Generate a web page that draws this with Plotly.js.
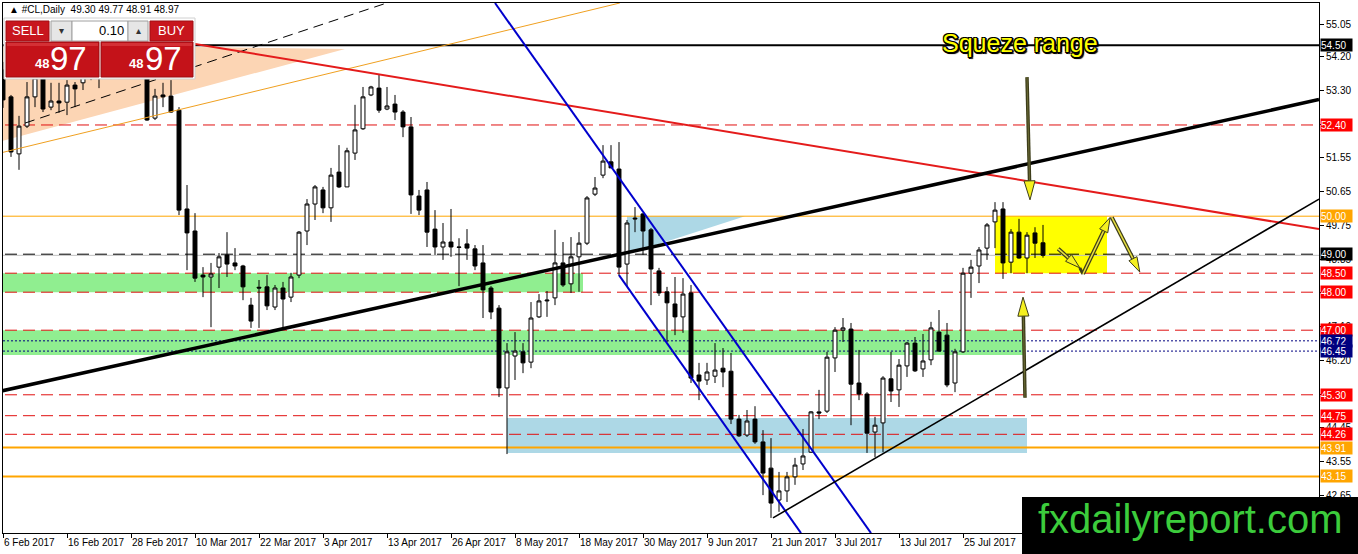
<!DOCTYPE html>
<html><head><meta charset="utf-8">
<script src="https://cdn.plot.ly/plotly-3.0.1.min.js"></script>
<style>html,body{margin:0;padding:0;background:#fff;}#chart{width:1358px;height:554px;}</style>
</head><body><div id="chart"></div>
<script>
// ---------- DATA ----------
const dates = [
"2017-02-06","2017-02-07","2017-02-08","2017-02-09","2017-02-10","2017-02-13","2017-02-14","2017-02-15","2017-02-16","2017-02-17",
"2017-02-20","2017-02-21","2017-02-22","2017-02-23","2017-02-24","2017-02-27","2017-02-28",
"2017-03-01","2017-03-02","2017-03-03","2017-03-06","2017-03-07","2017-03-08","2017-03-09","2017-03-10","2017-03-13","2017-03-14",
"2017-03-15","2017-03-16","2017-03-17","2017-03-20","2017-03-21","2017-03-22","2017-03-23","2017-03-24","2017-03-27","2017-03-28",
"2017-03-29","2017-03-30","2017-03-31",
"2017-04-03","2017-04-04","2017-04-05","2017-04-06","2017-04-07","2017-04-10","2017-04-11","2017-04-12","2017-04-13","2017-04-17",
"2017-04-18","2017-04-19","2017-04-20","2017-04-21","2017-04-24","2017-04-25","2017-04-26","2017-04-27","2017-04-28",
"2017-05-01","2017-05-02","2017-05-03","2017-05-04","2017-05-05","2017-05-08","2017-05-09","2017-05-10","2017-05-11","2017-05-12",
"2017-05-15","2017-05-16","2017-05-17","2017-05-18","2017-05-19","2017-05-22","2017-05-23","2017-05-24","2017-05-25","2017-05-26",
"2017-05-29","2017-05-30","2017-05-31",
"2017-06-01","2017-06-02","2017-06-05","2017-06-06","2017-06-07","2017-06-08","2017-06-09","2017-06-12","2017-06-13","2017-06-14",
"2017-06-15","2017-06-16","2017-06-19","2017-06-20","2017-06-21","2017-06-22","2017-06-23","2017-06-26","2017-06-27","2017-06-28",
"2017-06-29","2017-06-30",
"2017-07-03","2017-07-04","2017-07-05","2017-07-06","2017-07-07","2017-07-10","2017-07-11","2017-07-12","2017-07-13","2017-07-14",
"2017-07-17","2017-07-18","2017-07-19","2017-07-20","2017-07-21","2017-07-24","2017-07-25","2017-07-26","2017-07-27","2017-07-28",
"2017-07-31",
"2017-08-01","2017-08-02","2017-08-03","2017-08-04","2017-08-07","2017-08-08"];

const openP = [53.85,53.14,51.64,52.37,53.14,53.79,52.87,53.03,53.00,53.45,53.51,53.70,53.80,53.95,54.20,54.00,54.05,54.10,53.79,52.58,
53.19,53.16,52.79,50.19,49.61,48.45,48.40,48.66,48.98,48.77,48.69,47.66,48.13,48.14,47.61,48.11,47.87,48.45,49.61,50.32,
50.69,50.22,51.16,50.77,51.66,52.30,53.19,53.37,52.82,52.95,52.74,52.35,50.53,50.69,49.66,49.19,49.32,49.19,49.27,49.14,
48.77,48.11,47.58,45.48,46.32,46.43,46.16,47.35,47.77,47.85,48.77,48.22,48.93,49.29,50.58,51.08,51.43,51.24,48.74,49.95,
50.06,49.64,48.56,48.01,47.69,47.35,47.98,45.82,45.69,45.79,46.00,45.92,44.66,44.24,44.66,44.06,43.37,42.53,42.77,43.14,
43.48,43.79,44.85,44.87,46.27,47.00,47.03,45.61,45.32,44.32,44.56,45.72,45.43,46.06,46.66,45.98,46.22,46.95,46.87,45.61,
46.43,48.50,48.69,49.16,49.85,50.19,48.79,49.58,48.90,49.56,49.30];
const highP = [54.06,53.19,52.64,53.53,53.85,53.95,53.51,53.51,53.58,53.53,53.85,53.98,54.25,54.35,54.50,54.30,54.40,54.50,53.95,53.35,
53.51,53.58,52.87,50.82,50.08,48.66,48.77,49.03,49.58,49.16,48.72,47.85,48.32,48.45,48.19,48.27,48.51,49.61,50.45,50.82,
50.77,51.27,51.87,51.80,52.93,53.40,53.43,53.72,53.40,53.19,52.79,52.61,50.69,50.90,50.16,49.82,50.19,49.42,49.66,49.24,
49.24,48.16,47.66,46.66,46.95,46.66,47.74,47.95,48.03,49.64,49.32,49.45,49.58,50.53,51.03,51.87,51.87,51.95,49.90,50.24,
50.08,49.69,48.64,48.14,48.40,48.37,48.19,46.14,46.14,46.66,46.53,46.40,44.77,44.90,45.00,44.37,44.16,43.27,43.27,43.64,
44.40,44.87,45.43,46.43,47.08,47.32,47.19,46.48,45.37,44.72,45.79,46.43,46.24,46.69,46.82,46.90,47.22,47.53,47.19,46.51,
48.64,48.85,49.19,49.82,50.37,50.37,49.66,49.93,49.58,49.71,49.77];
const lowP = [52.85,51.56,51.22,52.32,52.87,52.74,52.79,52.72,52.66,52.87,53.32,53.58,53.37,53.72,53.80,53.75,53.70,53.80,52.51,52.53,
52.87,52.72,50.03,48.58,48.27,47.87,47.08,48.11,48.40,48.58,47.79,47.06,47.06,47.53,47.53,47.06,47.74,48.37,49.24,49.90,
50.08,49.85,50.74,50.77,51.48,52.27,53.16,52.72,52.79,52.53,52.08,50.06,50.03,49.19,48.98,48.85,48.93,48.16,48.85,48.58,
47.32,47.29,45.24,43.74,45.69,45.87,46.00,47.32,47.35,47.66,48.14,47.98,48.01,49.24,50.53,51.00,51.27,48.43,48.14,49.58,
48.98,47.66,47.90,46.69,46.87,46.93,45.61,45.16,45.56,45.61,45.50,44.53,44.19,44.19,44.01,42.66,42.06,42.22,42.48,42.93,
43.32,43.77,44.66,44.82,45.90,46.69,44.50,45.16,43.77,43.66,43.79,45.11,44.98,45.77,45.90,45.77,46.08,46.43,45.50,45.37,
46.40,47.85,48.24,48.85,49.16,48.35,48.50,48.88,48.50,48.90,48.91];
const closeP = [53.06,51.69,52.37,53.14,53.64,52.82,53.03,52.98,53.45,53.35,53.66,53.78,53.95,54.20,54.00,54.10,54.10,53.90,52.53,53.16,
53.14,52.74,50.16,49.56,48.37,48.40,48.48,48.93,48.74,48.69,48.14,47.24,48.11,47.64,48.11,47.82,48.40,49.58,50.32,50.77,
50.22,51.08,50.77,51.72,52.27,53.14,53.40,52.79,52.90,52.74,52.35,50.56,50.16,49.58,49.19,49.32,49.19,49.18,49.16,48.69,
48.06,47.48,45.48,46.43,46.45,46.14,47.32,47.77,47.79,48.77,48.19,48.93,49.29,50.48,50.74,51.45,51.27,48.66,49.82,49.93,
49.61,48.61,47.98,47.72,47.35,47.95,45.74,45.66,45.90,45.95,45.90,44.66,44.22,44.61,44.06,43.24,42.45,42.77,43.14,43.45,
43.69,44.85,44.82,46.29,47.00,47.06,45.58,45.32,44.29,44.50,45.74,45.40,46.08,46.66,45.93,46.19,47.06,46.45,45.56,46.43,
48.50,48.66,49.11,49.77,50.16,48.77,49.58,48.90,49.50,49.29,48.97];

const tickDates = ["2017-02-06","2017-02-16","2017-02-28","2017-03-10","2017-03-22","2017-04-03","2017-04-13","2017-04-26",
"2017-05-08","2017-05-18","2017-05-30","2017-06-09","2017-06-21","2017-07-03","2017-07-13","2017-07-25"];
const tickLabels = ["6 Feb 2017","16 Feb 2017","28 Feb 2017","10 Mar 2017","22 Mar 2017","3 Apr 2017","13 Apr 2017","26 Apr 2017",
"8 May 2017","18 May 2017","30 May 2017","9 Jun 2017","21 Jun 2017","3 Jul 2017","13 Jul 2017","25 Jul 2017"];
const priceTicks = [55.05,54.20,53.30,52.40,51.55,50.65,49.75,48.85,48.00,47.10,46.20,45.30,44.45,43.55,42.65];

// horizontal levels
const redLevels = [52.40,48.50,48.00,47.00,45.30,44.75,44.26];
const orangeThinLevels = [50.00];
const orangeThickLevels = [43.91,43.15];
const blackSolidLevels = [54.50];
const blackDashLevels = [49.00];
const navyDotLevels = [46.72,46.45];
const bidPrice = 48.97;

// price label boxes on the right scale
const labelRed = [52.40,48.50,48.00,47.00,45.30,44.75,44.26];
const labelBlack = [54.50,49.00];
const labelOrange = [50.00,43.91,43.15];
const labelNavy = [46.72,46.45];

// trendlines [barIndex, price]
const trendRed = [[24,54.53],[164.5,49.66]];
const trendBlackThick = [[-0.4,45.39],[164.5,53.07]];
const trendOrange = [[-0.4,51.66],[77.1,55.61]];
const trendBlackDash = [[2.75,52.45],[48.4,55.64]];
const channelUpper = [[61.5,55.61],[108.5,41.66]];
const channelLower = [[77,48.45],[99.75,41.66]];
const trendBlackThin = [[96.25,42.06],[164.5,50.45]];

// zones
const peachTriangle = [[-0.6,54.52],[42.75,54.40],[-0.6,51.95]];
const greenZoneUpper = {x0:-1, x1:72.5, y0:48.00, y1:48.50};
const greenZoneLower = {x0:-1, x1:127.75, y0:46.35, y1:47.00};
const blueZone = {x0:63, x1:128, y0:43.77, y1:44.69};
const blueTriangle = [[78,50.00],[92.75,50.00],[78,49.00]];
const yellowZone = {x0:124, x1:138, y0:48.50, y1:50.00};

// arrows [tail],[tip]
const bigArrows = [
  [[128.0,53.66],[128.375,50.43]],
  [[127.75,45.22],[127.5,47.87]]
];
const smallArrows = [
  [[131.9,49.14],[134.6,48.64]],
  [[135.0,48.48],[138.4,49.97]],
  [[138.6,49.97],[142.1,48.53]]
];
const smallConnector = [[134.6,48.64],[135.0,48.48]];

// ---------- LAYOUT CONSTANTS ----------
const W=1358, H=554, ML=3, MR=39, MT=3, MB=21;
const PW=W-ML-MR, PH=H-MT-MB;
const XR=[0,164.5], YR=[41.663,55.61];
const sx = PW/(XR[1]-XR[0]), sy = PH/(YR[1]-YR[0]);
const px = x => (x-ML)/PW;
const py = y => (H-MB-y)/PH;
const FONT = 'Liberation Sans, Arial, sans-serif';
// tick values whose text sits under a coloured price box
const hiddenTickText = [52.40,48.00,45.30];

const shapes = [];
function dline(p, color, width, dash, layer){
  shapes.push({type:'line',xref:'x',yref:'y',x0:p[0][0],y0:p[0][1],x1:p[1][0],y1:p[1][1],
    line:{color:color,width:width,dash:dash||'solid'},layer:layer||'above'});
}
function poly(pts, fill, layer){
  const d = 'M ' + pts.map(p=>p[0]+','+p[1]).join(' L ') + ' Z';
  shapes.push({type:'path',xref:'x',yref:'y',path:d,fillcolor:fill,line:{width:0},layer:layer||'below'});
}
function zone(z, fill){
  shapes.push({type:'rect',xref:'x',yref:'y',x0:z.x0,x1:z.x1,y0:z.y0,y1:z.y1,fillcolor:fill,line:{width:0},layer:'below'});
}
function hline(v,color,width,dash){
  shapes.push({type:'line',xref:'x',yref:'y',x0:-2,x1:170,y0:v,y1:v,line:{color:color,width:width,dash:dash||'solid'},layer:'below'});
}
function arrow(tail, tip, headLen, headW, small){
  const dx=(tip[0]-tail[0])*sx, dy=(tip[1]-tail[1])*sy;
  const L=Math.hypot(dx,dy), ux=dx/L, uy=dy/L, nx=-uy, ny=ux;
  const base=[tip[0]-ux*headLen/sx, tip[1]-uy*headLen/sy];
  const left=[base[0]+nx*headW/2/sx, base[1]+ny*headW/2/sy];
  const right=[base[0]-nx*headW/2/sx, base[1]-ny*headW/2/sy];
  if(small){
    dline([tail,base],'#3d3d1a',4);
    dline([tail,base],'#e8e040',1.5);
  } else {
    dline([tail,base],'#3d3d1a',3.5);
    dline([tail,base],'#6b6b35',1);
  }
  shapes.push({type:'path',xref:'x',yref:'y',
    path:`M ${tip[0]},${tip[1]} L ${left[0]},${left[1]} L ${right[0]},${right[1]} Z`,
    fillcolor:'#f5f020',line:{color:'#3d3d1a',width:1},layer:'above'});
}

// zones (background)
poly(peachTriangle,'#fcd5b4','below');
zone(greenZoneUpper,'#90ee90');
zone(greenZoneLower,'#90ee90');
zone(blueZone,'#add8e6');
poly(blueTriangle,'#add8e6','below');
zone(yellowZone,'#ffff00');
// horizontal levels
redLevels.forEach(v=>hline(v,'#e01010',1,'12px,6px'));
orangeThinLevels.forEach(v=>hline(v,'#ffa500',1));
orangeThickLevels.forEach(v=>hline(v,'#ffa500',2));
blackSolidLevels.forEach(v=>hline(v,'#000000',2));
hline(bidPrice,'#c0c0c0',1);
blackDashLevels.forEach(v=>hline(v,'#000000',1,'12px,6px'));
navyDotLevels.forEach(v=>hline(v,'#000080',1,'2px,2px'));
// trendlines
dline(trendBlackDash,'#000000',1,'10px,6px');
dline(trendOrange,'#f0a020',1);
dline(trendRed,'#e41b1b',2);
dline(trendBlackThick,'#000000',3.5);
dline(channelUpper,'#0000cd',2);
dline(channelLower,'#0000cd',2);
dline(trendBlackThin,'#000000',1.6);
// arrows
bigArrows.forEach(a=>arrow(a[0],a[1],19,11,false));
dline(smallConnector,'#3d3d1a',3);
smallArrows.forEach(a=>arrow(a[0],a[1],15,9,true));

// ---------- OVERLAYS (paper) ----------
function prect(x0,y0,x1,y1,fill,lineColor){
  shapes.push({type:'rect',xref:'paper',yref:'paper',x0:px(x0),x1:px(x1),y0:py(y1),y1:py(y0),
    fillcolor:fill,line:{color:lineColor||fill,width:lineColor?1:0},layer:'above'});
}
// trade panel
prect(4,18,195,79,'#ffffff','#d0d0d0');
prect(6,21,49,41,'#c8161d','#a00e14');
prect(51,21,72,41,'#e6e6e6','#a0a0a0');
prect(72,21,128,41,'#ffffff','#a0a0a0');
prect(128,21,148,41,'#e6e6e6','#a0a0a0');
prect(150,21,193,41,'#c8161d','#a00e14');
prect(6,42,99,77,'#c41219','#9a0c12');
prect(101,42,193,77,'#c41219','#9a0c12');
prect(7,43,98,46,'#d43035');
prect(102,43,192,46,'#d43035');
// watermark box
shapes.push({type:'rect',xref:'paper',yref:'paper',x0:px(1022),x1:px(1362),y0:py(560),y1:py(497),
  fillcolor:'#000000',line:{width:0},layer:'above'});

const annotations = [];
function ptext(x,y,text,size,color,xanchor,extra){
  annotations.push(Object.assign({xref:'paper',yref:'paper',x:px(x),y:py(y),text:text,showarrow:false,
    xanchor:xanchor||'center',yanchor:'middle',font:{family:FONT,size:size,color:color}},extra||{}));
}
ptext(7,10,'▲ #CL,Daily  49.30 49.77 48.91 48.97',10,'#000','left');
ptext(27.5,31,'SELL',13,'#fff');
ptext(171.5,31,'BUY',13,'#fff');
ptext(126,31,'0.10',13,'#000','right');
ptext(61.5,31,'▾',10,'#333');
ptext(138,31,'▴',10,'#333');
ptext(41.5,64,'<b>48</b>',13,'#fff');
ptext(68,59,'97',33,'#fff');
ptext(136,64,'<b>48</b>',13,'#fff');
ptext(163,59,'97',33,'#fff');
ptext(1190,519,'fxdailyreport.com',40,'#3ccc3c');
annotations.push({xref:'paper',yref:'paper',x:px(1020),y:py(43),text:'Squeze range',showarrow:false,
  xanchor:'center',yanchor:'middle',
  font:{family:FONT,size:25,color:'#ffff00',
    shadow:'-1px -1px 0 #000, 1px -1px 0 #000, -1px 1px 0 #000, 1px 1px 0 #000, 2px 2px 1px #000, 0 2px 0 #000, 2px 0 0 #000'}});

// price labels on the scale
function plabel(v,bg){
  annotations.push({xref:'paper',yref:'y',x:1,xshift:1,y:v,text:v.toFixed(2),showarrow:false,
    xanchor:'left',yanchor:'middle',align:'left',width:31,height:12,borderpad:0,bgcolor:bg,
    font:{family:FONT,size:10,color:'#ffffff'}});
}
labelRed.forEach(v=>plabel(v,'#ff0000'));
labelOrange.forEach(v=>plabel(v,'#ffa500'));
labelNavy.forEach(v=>plabel(v,'#000080'));
labelBlack.forEach(v=>plabel(v,'#000000'));

// ---------- TRACE ----------
const trace = {
  type:'candlestick', x:dates, open:openP, high:highP, low:lowP, close:closeP,
  increasing:{line:{color:'#000000',width:1},fillcolor:'#ffffff'},
  decreasing:{line:{color:'#000000',width:1},fillcolor:'#000000'},
  whiskerwidth:0, hoverinfo:'skip', showlegend:false
};

const layout = {
  width:W, height:H, margin:{l:ML,r:MR,t:MT,b:MB,autoexpand:false},
  paper_bgcolor:'#ffffff', plot_bgcolor:'#ffffff', showlegend:false,
  font:{family:FONT,size:10,color:'#000'},
  xaxis:{type:'category', range:XR, rangeslider:{visible:false}, showgrid:false, zeroline:false,
    showline:true, linecolor:'#000', linewidth:1, mirror:true, automargin:false,
    tickmode:'array', tickvals:tickDates, ticktext:tickLabels, ticks:'outside', ticklen:4, tickcolor:'#000',
    tickangle:0, ticklabelposition:'outside right', tickfont:{family:FONT,size:10,color:'#000'}},
  yaxis:{range:YR, side:'right', showgrid:false, zeroline:false, showline:true, linecolor:'#000', linewidth:1, mirror:true,
    automargin:false, tickmode:'array', tickvals:priceTicks,
    ticktext:priceTicks.map(v=>hiddenTickText.includes(v)?'':v.toFixed(2)), ticks:'outside', ticklen:4, tickcolor:'#000',
    tickfont:{family:FONT,size:10,color:'#000'}},
  shapes:shapes, annotations:annotations, hovermode:false, dragmode:false
};

Plotly.newPlot('chart',[trace],layout,{displayModeBar:false,staticPlot:true});
</script>
</body></html>
